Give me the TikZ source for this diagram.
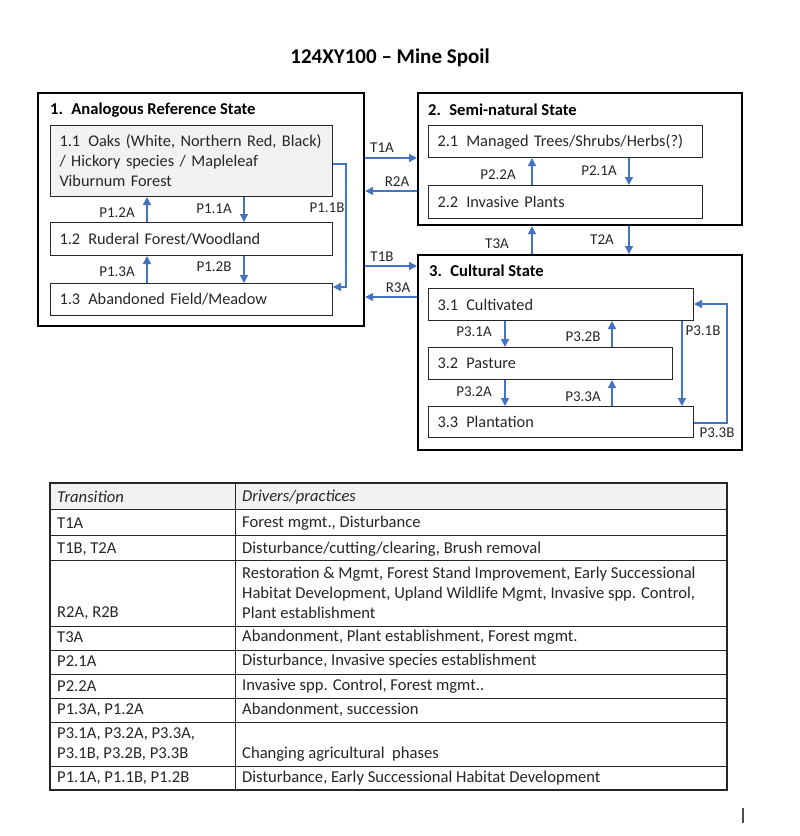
\documentclass[tikz,border=0pt]{standalone}
\usepackage{fontspec}
\setmainfont{Carlito}
\usetikzlibrary{arrows.meta,positioning}
\definecolor{arrowblue}{HTML}{4472C4}
\definecolor{boxgray}{HTML}{F2F2F2}
\definecolor{inkgray}{HTML}{262626}

\begin{document}
\begin{tikzpicture}[x=1pt,y=-1pt,
  outerbox/.style={draw=black,line width=2.2pt,anchor=north west,inner sep=0pt},
  statebox/.style={draw=inkgray,line width=1pt,anchor=north west,inner xsep=9pt,inner ysep=0pt,
    align=left,text=inkgray,font=\fontsize{16.3}{20}\selectfont},
  statetitle/.style={anchor=west,inner sep=0pt,text=black,font=\bfseries\fontsize{16.6}{18}\selectfont},
  trans/.style={draw=arrowblue,line width=1.4pt,-{Triangle[width=8pt,length=8pt]}},
  lab/.style={inner sep=0pt,text=inkgray,font=\fontsize{15}{17}\selectfont},
  cell/.style={anchor=west,inner sep=0pt,text=inkgray,align=left,font=\fontsize{16.6}{20}\selectfont}]
\useasboundingbox[fill=white] (0,0) rectangle (800,836);

% title
\node[inner sep=0pt,font=\bfseries\fontsize{21}{24}\selectfont] (title) at (390,58) {124XY100 -- Mine Spoil};

% state boxes
\node[outerbox,minimum width=326pt,minimum height=233pt] (box1) at (37,92) {};
\node[outerbox,minimum width=324pt,minimum height=132pt] (box2) at (417,92) {};
\node[outerbox,minimum width=324pt,minimum height=195pt] (box3) at (417,254) {};
\node[statetitle] (title1) at (50,110) {1.\enspace Analogous Reference State};
\node[statetitle] (title2) at (428,110) {2.\enspace Semi-natural State};
\node[statetitle] (title3) at (429,271) {3.\enspace Cultural State};

% community phases
\node[statebox,fill=boxgray,text width=264pt,minimum height=71pt] (s11) at (50,125)
  {1.1\enspace Oaks (White, Northern Red, Black)\\/ Hickory species / Mapleleaf\\Viburnum Forest};
\node[statebox,text width=264pt,minimum height=33pt] (s12) at (50,222) {1.2\enspace Ruderal Forest/Woodland};
\node[statebox,text width=264pt,minimum height=32pt] (s13) at (50,283) {1.3\enspace Abandoned Field/Meadow};
\node[statebox,text width=256pt,minimum height=32pt] (s21) at (428,125) {2.1\enspace Managed Trees/Shrubs/Herbs(?)};
\node[statebox,text width=256pt,minimum height=33pt] (s22) at (428,185) {2.2\enspace Invasive Plants};
\node[statebox,text width=247pt,minimum height=32pt] (s31) at (428,288) {3.1\enspace Cultivated};
\node[statebox,text width=226pt,minimum height=32pt] (s32) at (428,347) {3.2\enspace Pasture};
\node[statebox,text width=247pt,minimum height=31pt] (s33) at (428,406) {3.3\enspace Plantation};

% arrow columns and rows
\coordinate (xl) at (147,0);
\coordinate (xr) at (244,0);
\coordinate (xm) at (532,0);
\coordinate (xn) at (629,0);
\coordinate (xp) at (505,0);
\coordinate (xq) at (612,0);
\coordinate (xs) at (682,0);
\coordinate (yt1a) at (0,158);
\coordinate (yr2a) at (0,191);
\coordinate (yt1b) at (0,266);
\coordinate (yr3a) at (0,297);
\coordinate (k1) at (346,164);
\coordinate (k2) at (346,287);
\coordinate (k3) at (727,423);
\coordinate (k4) at (727,304);

% pathways in state 1
\draw[trans] (s11.south -| xr) -- (s12.north -| xr);
\draw[trans] (s12.north -| xl) -- (s11.south -| xl);
\draw[trans] (s12.south -| xr) -- (s13.north -| xr);
\draw[trans] (s13.north -| xl) -- (s12.south -| xl);
\draw[trans] (s11.east |- k1) -- (k1) -- (k2) -- (s13.east |- k2);
\node[lab] (p11a) at (214,209) {P1.1A};
\node[lab] (p12a) at (117,213) {P1.2A};
\node[lab] (p11b) at (327,208) {P1.1B};
\node[lab] (p13a) at (117,272) {P1.3A};
\node[lab] (p12b) at (214,267) {P1.2B};

% pathways in state 2
\draw[trans] (s22.north -| xm) -- (s21.south -| xm);
\draw[trans] (s21.south -| xn) -- (s22.north -| xn);
\node[lab] (p22a) at (498,175) {P2.2A};
\node[lab] (p21a) at (599,171) {P2.1A};

% transitions
\draw[trans] (box1.east |- yt1a) -- (box2.west |- yt1a);
\draw[trans] (box2.west |- yr2a) -- (box1.east |- yr2a);
\draw[trans] (box1.east |- yt1b) -- (box3.west |- yt1b);
\draw[trans] (box3.west |- yr3a) -- (box1.east |- yr3a);
\draw[trans] (box3.north -| xm) -- (box2.south -| xm);
\draw[trans] (box2.south -| xn) -- (box3.north -| xn);
\node[lab] (t1a) at (382,148) {T1A};
\node[lab] (r2a) at (397,182) {R2A};
\node[lab] (t1b) at (382,257) {T1B};
\node[lab] (r3a) at (398,288) {R3A};
\node[lab] (t3a) at (497,244) {T3A};
\node[lab] (t2a) at (602,240) {T2A};

% pathways in state 3
\draw[trans] (s31.south -| xp) -- (s32.north -| xp);
\draw[trans] (s32.north -| xq) -- (s31.south -| xq);
\draw[trans] (s32.south -| xp) -- (s33.north -| xp);
\draw[trans] (s33.north -| xq) -- (s32.south -| xq);
\draw[trans] (s31.south -| xs) -- (s33.north -| xs);
\draw[trans] (s33.east |- k3) -- (k3) -- (k4) -- (s31.east |- k4);
\node[lab] (p31a) at (474,332) {P3.1A};
\node[lab] (p32b) at (583,337) {P3.2B};
\node[lab] (p31b) at (703,331) {P3.1B};
\node[lab] (p32a) at (474,392) {P3.2A};
\node[lab] (p33a) at (583,397) {P3.3A};
\node[lab] (p33b) at (717,433) {P3.3B};

% table
\fill[boxgray] (50,483) rectangle (727,509);
\draw[inkgray,line width=1pt] (50,509) -- (727,509);
\draw[inkgray,line width=1pt] (50,535) -- (727,535);
\draw[inkgray,line width=1pt] (50,560) -- (727,560);
\draw[inkgray,line width=1pt] (50,626) -- (727,626);
\draw[inkgray,line width=1pt] (50,650) -- (727,650);
\draw[inkgray,line width=1pt] (50,674) -- (727,674);
\draw[inkgray,line width=1pt] (50,698) -- (727,698);
\draw[inkgray,line width=1pt] (50,722) -- (727,722);
\draw[inkgray,line width=1pt] (50,766) -- (727,766);
\draw[inkgray,line width=1pt] (235,483) -- (235,790);
\draw[inkgray,line width=2pt] (50,483) rectangle (727,790);
\node[cell,font=\itshape\fontsize{16.6}{20}\selectfont] (th1) at (57,497) {Transition};
\node[cell,font=\itshape\fontsize{16.6}{20}\selectfont] (th2) at (242,497) {Drivers/practices};
\node[cell] (ta1) at (57,523) {T1A};
\node[cell] (tb1) at (242,523) {Forest mgmt., Disturbance};
\node[cell] (ta2) at (57,549) {T1B, T2A};
\node[cell] (tb2) at (242,549) {Disturbance/cutting/clearing, Brush removal};
\node[cell] (ta3) at (57,613) {R2A, R2B};
\node[cell] (tb3) at (242,593) {Restoration \& Mgmt, Forest Stand Improvement, Early Successional\\Habitat Development, Upland Wildlife Mgmt, Invasive spp. Control,\\Plant establishment};
\node[cell] (ta4) at (57,637) {T3A};
\node[cell] (tb4) at (242,637) {Abandonment, Plant establishment, Forest mgmt.};
\node[cell] (ta5) at (57,661) {P2.1A};
\node[cell] (tb5) at (242,661) {Disturbance, Invasive species establishment};
\node[cell] (ta6) at (57,686) {P2.2A};
\node[cell] (tb6) at (242,686) {Invasive spp. Control, Forest mgmt..};
\node[cell] (ta7) at (57,710) {P1.3A, P1.2A};
\node[cell] (tb7) at (242,710) {Abandonment, succession};
\node[cell] (ta8) at (57,744) {P3.1A, P3.2A, P3.3A,\\P3.1B, P3.2B, P3.3B};
\node[cell] (tb8) at (242,754) {Changing agricultural\ \ phases};
\node[cell] (ta9) at (57,778) {P1.1A, P1.1B, P1.2B};
\node[cell] (tb9) at (242,778) {Disturbance, Early Successional Habitat Development};

% cursor mark
\draw[black!70,line width=1.5pt] (743,808) -- (743,823);
\end{tikzpicture}
\end{document}
